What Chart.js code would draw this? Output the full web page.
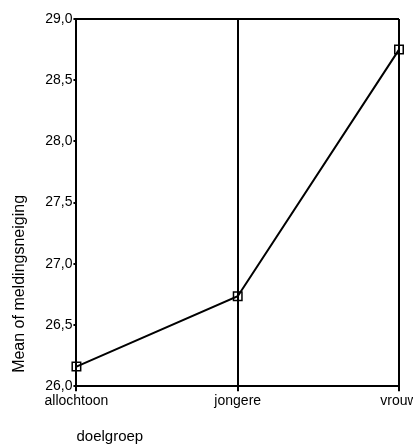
<!DOCTYPE html>
<html>
<head>
<meta charset="utf-8">
<script src="https://cdn.jsdelivr.net/npm/chart.js@4"></script>
<style>
html,body{margin:0;padding:0;background:#fff;overflow:hidden;width:413px;height:447px;}
canvas{display:block;}
</style>
</head>
<body>
<canvas id="c" width="430" height="447"></canvas>
<script>
const categories = ["allochtoon", "jongere", "vrouw"];
const meanValues = [26.16, 26.735, 28.75];
const yTicks = [26.0, 26.5, 27.0, 27.5, 28.0, 28.5, 29.0];
const yTitle = "Mean of meldingsneiging";
const xTitle = "doelgroep";

const FONT = '"Liberation Sans", Arial, sans-serif';

new Chart(document.getElementById('c'), {
  type: 'line',
  data: {
    labels: categories,
    datasets: [{
      data: meanValues,
      borderColor: '#000',
      borderWidth: 2,
      backgroundColor: 'rgba(0,0,0,0)',
      pointStyle: 'rect',
      pointRadius: 6,
      pointBorderWidth: 1.5,
      pointBorderColor: '#000',
      pointBackgroundColor: 'rgba(0,0,0,0)',
      tension: 0,
      clip: false
    }]
  },
  options: {
    responsive: false,
    animation: false,
    events: [],
    layout: { padding: { left: 0, right: 31, top: 19, bottom: 0 } },
    plugins: { legend: { display: false }, tooltip: { enabled: false } },
    scales: {
      x: {
        type: 'category',
        offset: false,
        grid: {
          display: true,
          drawOnChartArea: true,
          color: '#000',
          lineWidth: 2,
          tickLength: 5,
          tickColor: '#000'
        },
        border: { display: true, color: '#000', width: 2 },
        ticks: {
          color: '#000',
          font: { family: FONT, size: 14 },
          padding: 2,
          maxRotation: 0,
          autoSkip: false
        },
        title: {
          display: true,
          text: xTitle,
          align: 'start',
          color: '#000',
          font: { family: FONT, size: 15 },
          padding: { top: 16, bottom: 1 }
        }
      },
      y: {
        min: yTicks[0],
        max: yTicks[yTicks.length - 1],
        afterBuildTicks: (scale) => { scale.ticks = yTicks.map(v => ({ value: v })); },
        grid: {
          display: true,
          drawOnChartArea: true,
          color: (ctx) => (ctx.tick && (ctx.tick.value === yTicks[0] || ctx.tick.value === yTicks[yTicks.length - 1])) ? '#000' : 'rgba(0,0,0,0)',
          lineWidth: 2,
          tickLength: 3,
          tickColor: '#000'
        },
        border: { display: true, color: '#000', width: 2 },
        ticks: {
          color: '#000',
          font: { family: FONT, size: 14 },
          padding: 1,
          callback: (v) => Number(v).toFixed(1).replace('.', ',')
        },
        title: {
          display: true,
          text: '   ' + yTitle,
          align: 'start',
          color: '#000',
          font: { family: FONT, size: 16 },
          padding: { top: 10, bottom: 15 }
        }
      }
    }
  }
});
</script>
</body>
</html>
